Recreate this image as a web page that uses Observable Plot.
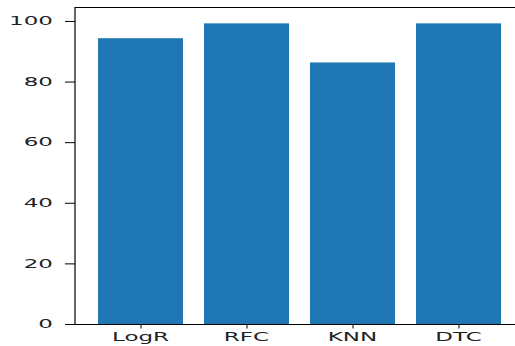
<!DOCTYPE html>
<html>
<head>
<meta charset="utf-8">
<script src="https://cdn.jsdelivr.net/npm/d3@7"></script>
<script src="https://cdn.jsdelivr.net/npm/@observablehq/plot@0.6"></script>
<style>
  html, body { margin: 0; padding: 0; background: #fff; overflow: hidden; }
</style>
</head>
<body>
<div id="chart"></div>
<script>
const models = ["LogR", "RFC", "KNN", "DTC"];
const accuracy = [94.3, 99.2, 86.3, 99.2];
const yTicks = [0, 20, 40, 60, 80, 100];
const yMax = 104.6;

const data = models.map((m, i) => ({model: m, acc: accuracy[i]}));

const chart = Plot.plot({
  width: 515,
  height: 346,
  marginLeft: 75,
  marginRight: -8,
  marginTop: 7,
  marginBottom: 22,
  style: {fontFamily: "DejaVu Sans", fontSize: "11.5px", color: "#222", background: "#fff"},
  x: {domain: models, padding: 0.2, label: null},
  y: {domain: [0, yMax], ticks: yTicks, label: null},
  marks: [
    Plot.barY(data, {x: "model", y: "acc", fill: "#1f77b4"}),
    Plot.ruleY([0, yMax], {stroke: "#000", strokeWidth: 1.2}),
    Plot.axisY({ticks: yTicks, tickSize: 10, tickFormat: () => "", stroke: "#000", label: null}),
    Plot.axisX({tickSize: 4.5, tickFormat: () => "", stroke: "#000", label: null})
  ]
});
document.getElementById("chart").appendChild(chart);

// Spine and tick labels drawn from Plot's own scales.
// The reference picture is stretched horizontally, so labels are widened.
const xs = chart.scale("x");
const ys = chart.scale("y");
const svg = d3.select(chart);
const x0 = xs.range[0];
svg.append("line")
  .attr("x1", x0).attr("x2", x0)
  .attr("y1", ys.apply(0)).attr("y2", ys.apply(yMax))
  .attr("stroke", "#000").attr("stroke-width", 1.2);

const lab = svg.append("g")
  .attr("font-family", "DejaVu Sans")
  .attr("font-size", "11.5px")
  .attr("fill", "#222");

lab.selectAll("text.yl").data(yTicks).join("text")
  .attr("class", "yl")
  .attr("text-anchor", "end")
  .attr("dy", "0.36em")
  .attr("transform", d => `translate(${x0 - 22},${ys.apply(d)}) scale(2,1)`)
  .text(d => d);

lab.selectAll("text.xl").data(models).join("text")
  .attr("class", "xl")
  .attr("text-anchor", "middle")
  .attr("dy", "0.71em")
  .attr("transform", d => `translate(${xs.apply(d) + xs.bandwidth / 2},${ys.apply(0) + 9}) scale(2,1)`)
  .text(d => d);
</script>
</body>
</html>
